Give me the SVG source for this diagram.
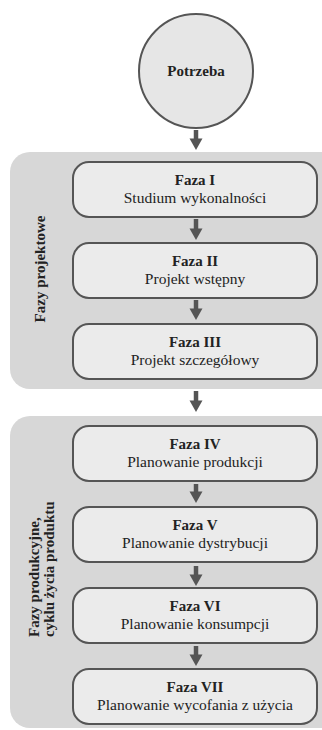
<svg xmlns="http://www.w3.org/2000/svg" width="322" height="730" viewBox="0 0 322 730">
<style>
.panel{fill:#d7d7d7;stroke:none}
.box{fill:#ebebeb;stroke:#555555;stroke-width:2}
.t{font-family:"Liberation Serif","Times New Roman",serif;font-size:15.5px;fill:#222222;text-anchor:middle}
.b{font-weight:bold;font-size:15px}
.lbl{font-family:"Liberation Serif","Times New Roman",serif;font-size:15px;font-weight:bold;fill:#222222}
.arr{stroke:#555555;stroke-width:4.5;fill:none}
</style>
<defs>
<marker id="ah" markerUnits="userSpaceOnUse" markerWidth="12" markerHeight="14" refX="0" refY="6.5" orient="auto" overflow="visible">
<path d="M-0.5,0 L11,6.5 L-0.5,13 Z" fill="#555555"/>
</marker>
</defs>
<rect width="322" height="730" fill="#ffffff"/>
<g id="panel1">
<rect class="panel" x="10" y="152" width="332" height="237" rx="20"/>
<text class="lbl" transform="translate(45,269) rotate(-90)" text-anchor="middle">Fazy projektowe</text>
</g>
<g id="panel2">
<rect class="panel" x="10" y="416" width="332" height="312" rx="20"/>
<text class="lbl" transform="translate(38.5,637) rotate(-90)" text-anchor="start">Fazy produkcyjne,</text>
<text class="lbl" transform="translate(53.5,637) rotate(-90)" text-anchor="start">cyklu życia produktu</text>
</g>
<g id="connectors">
<line class="arr" x1="196" y1="130" x2="196" y2="139" marker-end="url(#ah)"/>
<line class="arr" x1="196" y1="219" x2="196" y2="229" marker-end="url(#ah)"/>
<line class="arr" x1="196" y1="300" x2="196" y2="309" marker-end="url(#ah)"/>
<line class="arr" x1="196" y1="391" x2="196" y2="401" marker-end="url(#ah)"/>
<line class="arr" x1="196" y1="484" x2="196" y2="492" marker-end="url(#ah)"/>
<line class="arr" x1="196" y1="566" x2="196" y2="575" marker-end="url(#ah)"/>
<line class="arr" x1="196" y1="646" x2="196" y2="655" marker-end="url(#ah)"/>
</g>
<g id="potrzeba">
<circle cx="196" cy="71" r="57" fill="#e6e6e6" stroke="#555555" stroke-width="2"/>
<text class="t b" x="196" y="76">Potrzeba</text>
</g>
<g id="faza1">
<rect class="box" x="73" y="162" width="244" height="55" rx="16"/>
<text class="t b" x="195" y="185">Faza I</text>
<text class="t" x="195" y="203">Studium wykonalności</text>
</g>
<g id="faza2">
<rect class="box" x="73" y="243" width="244" height="55" rx="16"/>
<text class="t b" x="195" y="266">Faza II</text>
<text class="t" x="195" y="284">Projekt wstępny</text>
</g>
<g id="faza3">
<rect class="box" x="73" y="324" width="244" height="55" rx="16"/>
<text class="t b" x="195" y="347">Faza III</text>
<text class="t" x="195" y="365">Projekt szczegółowy</text>
</g>
<g id="faza4">
<rect class="box" x="73" y="426" width="244" height="55" rx="16"/>
<text class="t b" x="195" y="449">Faza IV</text>
<text class="t" x="195" y="467">Planowanie produkcji</text>
</g>
<g id="faza5">
<rect class="box" x="73" y="507" width="244" height="55" rx="16"/>
<text class="t b" x="195" y="530">Faza V</text>
<text class="t" x="195" y="548">Planowanie dystrybucji</text>
</g>
<g id="faza6">
<rect class="box" x="73" y="588" width="244" height="55" rx="16"/>
<text class="t b" x="195" y="611">Faza VI</text>
<text class="t" x="195" y="629">Planowanie konsumpcji</text>
</g>
<g id="faza7">
<rect class="box" x="73" y="669" width="244" height="55" rx="16"/>
<text class="t b" x="195" y="692">Faza VII</text>
<text class="t" x="195" y="710">Planowanie wycofania z użycia</text>
</g>
</svg>
